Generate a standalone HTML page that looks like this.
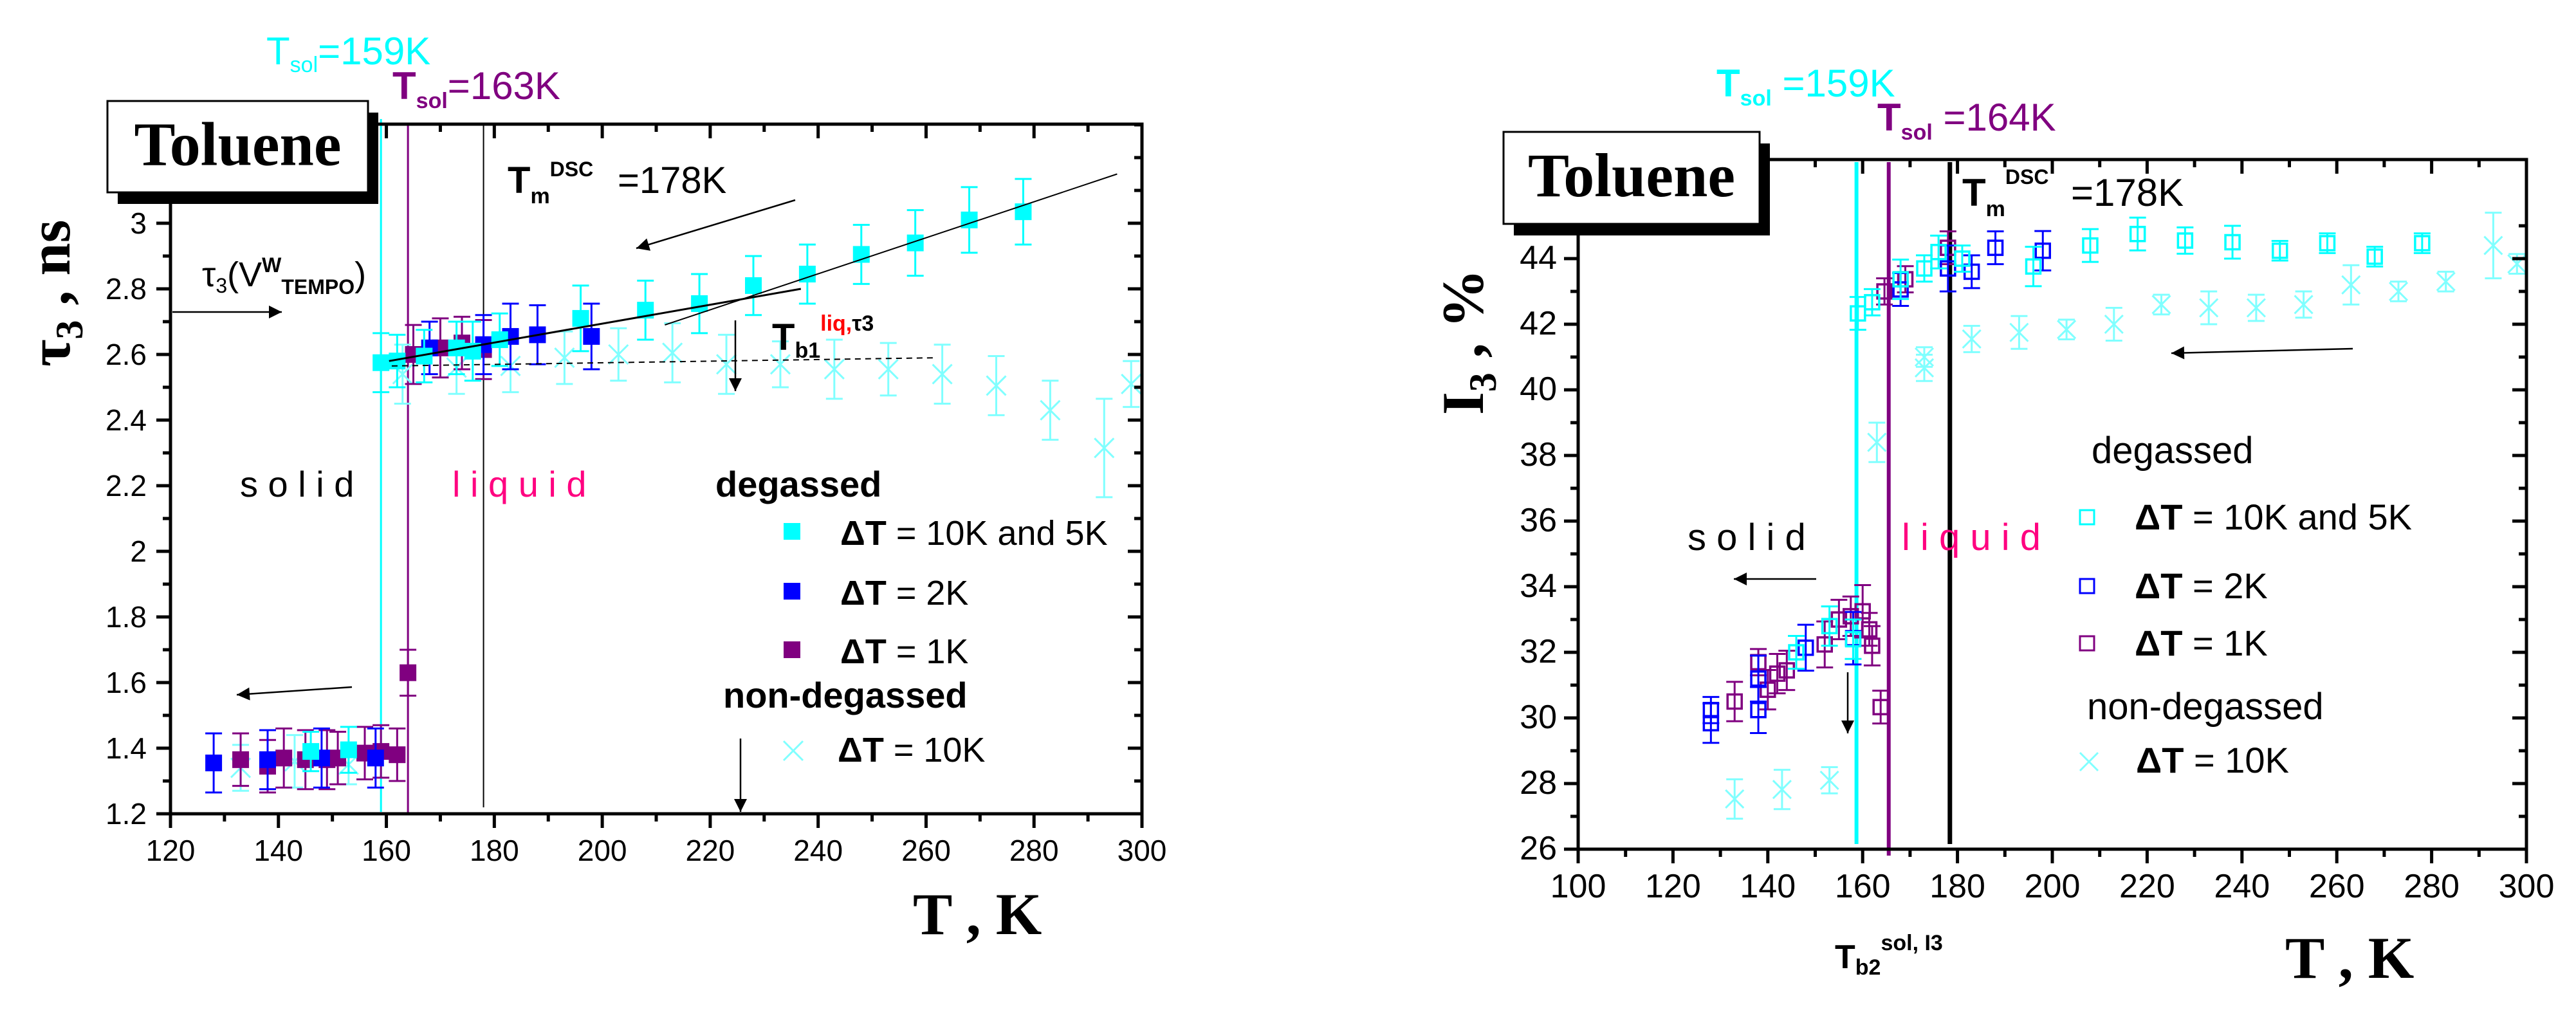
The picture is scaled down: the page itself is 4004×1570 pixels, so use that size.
<!DOCTYPE html>
<html><head><meta charset="utf-8"><style>
html,body{margin:0;padding:0;background:#fff;}
svg{display:block;}
text{font-family:"Liberation Sans",Arial,sans-serif;}
.serif{font-family:"Liberation Serif","Times New Roman",serif;font-weight:bold;}
</style></head><body>
<svg id="fig" width="4004" height="1570" viewBox="0 0 4004 1570" xmlns="http://www.w3.org/2000/svg">
<defs>
<marker id="ah" viewBox="0 0 10 10" refX="10" refY="5" markerWidth="14" markerHeight="10" markerUnits="userSpaceOnUse" orient="auto"><path d="M0,0L10,5L0,10z" fill="#000"/></marker>
<marker id="ahb" viewBox="0 0 10 10" refX="10" refY="5" markerWidth="30" markerHeight="20" markerUnits="userSpaceOnUse" orient="auto"><path d="M0,0L10,5L0,10z" fill="#000"/></marker>
</defs>
<g id="left"></g>
<g id="right"></g>
</svg>
<script>
// ---------- Left chart data (tau3, ns) ----------
const L_xTicks = [120,140,160,180,200,220,240,260,280,300];
const L_yTicks = [1.2,1.4,1.6,1.8,2,2.2,2.4,2.6,2.8,3];
const L_cyanT = [146,153,159,162,167,173,176,181,196,208,218,228,238,248,258,268,278];
const L_cyanV = [1.39,1.395,2.575,2.58,2.595,2.62,2.61,2.645,2.71,2.735,2.755,2.81,2.845,2.905,2.94,3.01,3.035];
const L_cyanE = [0.06,0.07,0.09,0.08,0.08,0.08,0.09,0.08,0.1,0.09,0.09,0.09,0.09,0.09,0.1,0.1,0.1];
const L_blueT = [128,138,148,158,168,178,183,188,198];
const L_blueV = [1.355,1.365,1.37,1.37,2.62,2.63,2.655,2.66,2.655];
const L_blueE = [0.09,0.09,0.09,0.09,0.08,0.09,0.1,0.09,0.1];
const L_purpT = [133,138,141,145,149,151,156,159,162,164,165,170,174,178];
const L_purpV = [1.365,1.345,1.37,1.365,1.365,1.37,1.385,1.39,1.38,1.63,2.6,2.62,2.635,2.615];
const L_purpE = [0.08,0.08,0.09,0.09,0.09,0.08,0.08,0.08,0.08,0.07,0.09,0.09,0.08,0.09];
const L_ndT = [133,143,153,163,173,183,193,203,213,223,233,243,253,263,273,283,293,298];
const L_ndV = [1.34,1.36,1.35,2.54,2.56,2.565,2.59,2.6,2.605,2.57,2.57,2.555,2.555,2.54,2.505,2.43,2.315,2.51];
const L_ndE = [0.07,0.08,0.06,0.09,0.08,0.08,0.08,0.08,0.09,0.09,0.07,0.09,0.08,0.09,0.09,0.09,0.15,0.07];
const L_fit1T = [160.5,236.8], L_fit1V = [2.58,2.8];
const L_fit2T = [211.6,295.4], L_fit2V = [2.69,3.15];
const L_dashT = [161,262], L_dashV = [2.565,2.59];

// ---------- Right chart data (I3, %) ----------
const R_xTicks = [100,120,140,160,180,200,220,240,260,280,300];
const R_yTicks = [26,28,30,32,34,36,38,40,42,44];
const R_cyanT = [146,153,158,159,162,168,173,176,181,196,208,218,228,238,248,258,268,278];
const R_cyanV = [32.0,32.8,32.4,42.33,42.67,43.37,43.7,44.2,44.0,43.76,44.4,44.75,44.55,44.5,44.24,44.47,44.06,44.47];
const R_cyanE = [0.5,0.6,0.6,0.5,0.4,0.6,0.4,0.5,0.4,0.6,0.5,0.5,0.4,0.5,0.3,0.3,0.3,0.3];
const R_blueT = [128,128,138,138,148,158,168,178,183,188,198];
const R_blueV = [30.24,29.84,31.2,30.24,32.14,32.43,43.06,43.7,43.6,44.33,44.24];
const R_blueE = [0.4,0.6,0.7,0.7,0.7,0.8,0.5,0.7,0.5,0.5,0.6];
const R_purpT = [133,138,140,142,144,152,155,157.5,160,161.4,162,163.8,164.6,169,178];
const R_purpV = [30.5,31.7,30.86,31.35,31.45,32.24,33.0,33.1,33.25,32.7,32.2,30.33,43.0,43.37,44.33];
const R_purpE = [0.6,0.4,0.6,0.6,0.6,0.7,0.6,0.6,0.8,0.5,0.6,0.5,0.4,0.4,0.5];
const R_ndT = [133,143,153,163,173,173,183,193,203,213,223,233,243,253,263,273,283,293,298];
const R_ndV = [27.53,27.82,28.1,38.4,40.67,41.0,41.55,41.75,41.84,42.0,42.6,42.5,42.5,42.6,43.2,43.0,43.3,44.4,43.84];
const R_ndE = [0.6,0.6,0.4,0.6,0.4,0.3,0.4,0.5,0.3,0.5,0.3,0.5,0.4,0.4,0.6,0.3,0.3,1.0,0.3];

const NS = "http://www.w3.org/2000/svg";
function mk(parent, tag, attrs, txt){
  const e = document.createElementNS(NS, tag);
  for (const k in attrs) e.setAttribute(k, attrs[k]);
  if (txt !== undefined) e.textContent = txt;
  parent.appendChild(e);
  return e;
}
const CY="#00ffff", BL="#0000ff", PU="#800080", ND="#80ffff";

function frame(g, x0, x1, y0, y1, xTicks, yTicks, sx, sy, xMinorStep, yMinorStep, xmin, xmax, ymin, ymax, fs, xlblY, ylblX){
  const fr = mk(g,'rect',{x:x0,y:y0,width:x1-x0,height:y1-y0,fill:'none',stroke:'#000','stroke-width':5});
  
  
  for (let t=xmin; t<=xmax+1e-6; t+=xMinorStep){
    const major = xTicks.some(v=>Math.abs(v-t)<1e-6);
    const L = major?22:12;
    const X = sx(t);
    const tk = mk(g,'line',{x1:X,x2:X,y1:y1,y2:y1+L,stroke:'#000','stroke-width':5});
    
    
    mk(g,'line',{x1:X,x2:X,y1:y0,y2:y0+L,stroke:'#000','stroke-width':5});
  }
  xTicks.forEach(v=>{
    const t = mk(g,'text',{x:sx(v),y:xlblY,'font-size':fs,'text-anchor':'middle'},String(v));
    
    
  });
  for (let v=ymin; v<=ymax+1e-6; v+=yMinorStep){
    const major = yTicks.some(u=>Math.abs(u-v)<1e-6);
    const L = major?22:12;
    const Y = sy(v);
    const tk = mk(g,'line',{x1:x0-L,x2:x0,y1:Y,y2:Y,stroke:'#000','stroke-width':5});
    
    
    mk(g,'line',{x1:x1-L,x2:x1,y1:Y,y2:Y,stroke:'#000','stroke-width':5});
  }
  yTicks.forEach(v=>{
    const t = mk(g,'text',{x:ylblX,y:sy(v)+16,'font-size':fs,'text-anchor':'end'},String(v));
    
    
  });
}

function series(g, T, V, E, sx, sy, color, kind, size, name){
  const sg = mk(g,'g',{});
  
  
  for (let i=0;i<T.length;i++){
    const X=sx(T[i]), Y=sy(V[i]), Yt=sy(V[i]+E[i]), Yb=sy(V[i]-E[i]);
    mk(sg,'line',{x1:X,x2:X,y1:Yt,y2:Yb,stroke:color,'stroke-width':3});
    mk(sg,'line',{x1:X-13,x2:X+13,y1:Yt,y2:Yt,stroke:color,'stroke-width':3});
    mk(sg,'line',{x1:X-13,x2:X+13,y1:Yb,y2:Yb,stroke:color,'stroke-width':3});
    const h=size/2;
    let m;
    if (kind==='fill') m = mk(sg,'rect',{x:X-h,y:Y-h,width:size,height:size,fill:color});
    else if (kind==='open') m = mk(sg,'rect',{x:X-h,y:Y-h,width:size,height:size,fill:'none',stroke:color,'stroke-width':3.5});
    else { m = mk(sg,'path',{d:`M${X-h},${Y-h}L${X+h},${Y+h}M${X-h},${Y+h}L${X+h},${Y-h}`,stroke:color,'stroke-width':3,fill:'none'}); }
    
    
  }
}

function label(g, x, y, html, attrs, name){
  const t = mk(g,'text',Object.assign({x:x,y:y},attrs||{}));
  t.innerHTML = html;
  
  
  return t;
}
function arrow(g,x1,y1,x2,y2,big,name){
  const a = mk(g,'line',{x1:x1,y1:y1,x2:x2,y2:y2,stroke:'#000','stroke-width':2.5,'marker-end':big?'url(#ahb)':'url(#ah)'});
  
  
}
function tolueneBox(g,x,y,w,h,fs){
  const bg = mk(g,'g',{});
  
  
  mk(bg,'rect',{x:x+16,y:y+18,width:w,height:h,fill:'#000'});
  mk(bg,'rect',{x:x,y:y,width:w,height:h,fill:'#fff',stroke:'#000','stroke-width':3});
  mk(bg,'text',{x:x+w/2,y:y+h*0.7,'font-size':fs,'text-anchor':'middle',class:'serif'},'Toluene');
}

// ===== LEFT =====
(function(){
  const g = document.getElementById('left');
  const x0=265,x1=1775,y0=193,y1=1265;
  const sx = t => x0 + (t-120)*(x1-x0)/180;
  const sy = v => y1 - (v-1.2)*510;
  const vl1=mk(g,'line',{x1:sx(159),x2:sx(159),y1:185,y2:1262,stroke:CY,'stroke-width':3});  
  const vl2=mk(g,'line',{x1:sx(164),x2:sx(164),y1:193,y2:1265,stroke:PU,'stroke-width':3});  
  const vl3=mk(g,'line',{x1:sx(178),x2:sx(178),y1:193,y2:1255,stroke:'#000','stroke-width':2});  
  series(g,L_ndT,L_ndV,L_ndE,sx,sy,ND,'x',30,'non-degassed-10k');
  series(g,L_purpT,L_purpV,L_purpE,sx,sy,PU,'fill',26,'degassed-1k');
  series(g,L_blueT,L_blueV,L_blueE,sx,sy,BL,'fill',26,'degassed-2k');
  series(g,L_cyanT,L_cyanV,L_cyanE,sx,sy,CY,'fill',26,'degassed-10k-5k');
  const f1=mk(g,'line',{x1:sx(L_fit1T[0]),y1:sy(L_fit1V[0]),x2:sx(L_fit1T[1]),y2:sy(L_fit1V[1]),stroke:'#000','stroke-width':3});  
  const f2=mk(g,'line',{x1:sx(L_fit2T[0]),y1:sy(L_fit2V[0]),x2:sx(L_fit2T[1]),y2:sy(L_fit2V[1]),stroke:'#000','stroke-width':2});  
  const f3=mk(g,'line',{x1:sx(L_dashT[0]),y1:sy(L_dashV[0]),x2:sx(L_dashT[1]),y2:sy(L_dashV[1]),stroke:'#000','stroke-width':2,'stroke-dasharray':'9,7'});  
  frame(g,x0,x1,y0,y1,L_xTicks,L_yTicks,sx,sy,10,0.1,120,300,1.2,3.3,46,1338,228);
  tolueneBox(g,167,157,405,142,96);
  label(g,414,100,'T<tspan font-size="34" dy="12">sol</tspan><tspan dy="-12">=159K</tspan>',{'font-size':60,fill:CY},'tsol-159-label');
  label(g,610,154,'<tspan font-weight="bold">T</tspan><tspan font-size="34" dy="14" font-weight="bold">sol</tspan><tspan dy="-14">=163K</tspan>',{'font-size':60,fill:PU},'tsol-163-label');
  label(g,789,300,'<tspan font-weight="bold">T</tspan><tspan font-size="34" dy="16" font-weight="bold">m</tspan><tspan font-size="32" dy="-42" font-weight="bold">DSC</tspan><tspan x="960" dy="26">=178K</tspan>',{'font-size':58},'tm-dsc-label');
  label(g,314,445,'τ<tspan font-size="32" dy="10">3</tspan><tspan dy="-10">(V</tspan><tspan font-size="32" dy="-22" font-weight="bold">W</tspan><tspan font-size="32" dy="34" font-weight="bold">TEMPO</tspan><tspan dy="-12">)</tspan>',{'font-size':54},'tau3-tempo-label');
  label(g,1200,544,'<tspan font-weight="bold">T</tspan><tspan font-size="34" dy="12" font-weight="bold">b1</tspan><tspan font-size="34" dy="-42" fill="#ff0000" font-weight="bold">liq,</tspan><tspan font-size="34" font-weight="bold">τ3</tspan>',{'font-size':58},'tb1-label');
  label(g,373,772,'s o l i d',{'font-size':56},'solid-label');
  label(g,703,772,'l i q u i d',{'font-size':56,fill:'#ff0080'},'liquid-label');
  arrow(g,1236,311,989,386,true,'cooling-arrow');
  arrow(g,268,485,438,485,true,'tau3-arrow');
  arrow(g,547,1068,368,1080,true,'solid-arrow');
  arrow(g,1143,498,1143,608,true,'tb1-down-arrow');
  arrow(g,1151,1148,1151,1262,true,'bottom-down-arrow');
  const lg = mk(g,'g',{});  
  label(lg,1112,772,'degassed',{'font-size':56,'font-weight':'bold'},'legend-degassed-title');
  const mks=[[CY,847,'ΔT = 10K and 5K'],[BL,940,'ΔT = 2K'],[PU,1031,'ΔT = 1K']];
  mks.forEach(m=>{
    const r=mk(lg,'rect',{x:1218,y:m[1]-34,width:26,height:26,fill:m[0]});  
    label(lg,1306,m[1],'<tspan font-weight="bold">ΔT</tspan>'+m[2].slice(2),{'font-size':54},'legend-entry');
  });
  label(lg,1124,1100,'non-degassed',{'font-size':56,'font-weight':'bold'},'legend-nondegassed-title');
  const xm=mk(lg,'path',{d:'M1218,1152L1248,1182M1218,1182L1248,1152',stroke:ND,'stroke-width':3});  
  label(lg,1302,1184,'<tspan font-weight="bold">ΔT</tspan> = 10K',{'font-size':54},'legend-entry');
  const yt=mk(g,'text',{x:0,y:0,'font-size':92,class:'serif',transform:'translate(108,570) rotate(-90)'}); yt.innerHTML='τ<tspan font-size="60" dy="20">3</tspan><tspan dy="-20"> , ns</tspan>';
   
  label(g,1419,1452,'T , K',{'font-size':92,class:'serif'},'x-axis-title');
})();

// ===== RIGHT =====
(function(){
  const g = document.getElementById('right');
  const x0=2453,x1=3927,y0=248,y1=1320;
  const sx = t => x0 + (t-100)*(x1-x0)/200;
  const sy = v => y1 - (v-26)*51;
  const vl1=mk(g,'line',{x1:sx(158.7),x2:sx(158.7),y1:252,y2:1312,stroke:CY,'stroke-width':6});  
  const vl2=mk(g,'line',{x1:sx(165.5),x2:sx(165.5),y1:252,y2:1330,stroke:PU,'stroke-width':6});  
  const vl3=mk(g,'line',{x1:sx(178.4),x2:sx(178.4),y1:252,y2:1312,stroke:'#000','stroke-width':7});  
  series(g,R_ndT,R_ndV,R_ndE,sx,sy,ND,'x',28,'non-degassed-10k');
  series(g,R_purpT,R_purpV,R_purpE,sx,sy,PU,'open',22,'degassed-1k');
  series(g,R_blueT,R_blueV,R_blueE,sx,sy,BL,'open',22,'degassed-2k');
  series(g,R_cyanT,R_cyanV,R_cyanE,sx,sy,CY,'open',22,'degassed-10k-5k');
  frame(g,x0,x1,y0,y1,R_xTicks,R_yTicks,sx,sy,10,1,100,300,26,45,52,1395,2420);
  tolueneBox(g,2337,205,398,143,96);
  label(g,2668,150,'<tspan font-weight="bold">T</tspan><tspan font-size="34" dy="14" font-weight="bold">sol</tspan><tspan dy="-14"> =159K</tspan>',{'font-size':60,fill:CY},'tsol-159-label');
  label(g,2918,203,'<tspan font-weight="bold">T</tspan><tspan font-size="34" dy="14" font-weight="bold">sol</tspan><tspan dy="-14"> =164K</tspan>',{'font-size':60,fill:PU},'tsol-164-label');
  label(g,3050,320,'<tspan font-weight="bold">T</tspan><tspan font-size="34" dy="16" font-weight="bold">m</tspan><tspan font-size="32" dy="-50" font-weight="bold">DSC</tspan><tspan x="3219" dy="34">=178K</tspan>',{'font-size':60},'tm-dsc-label');
  label(g,2623,855,'s o l i d',{'font-size':58},'solid-label');
  label(g,2956,855,'l i q u i d',{'font-size':58,fill:'#ff0080'},'liquid-label');
  label(g,2852,1505,'<tspan font-weight="bold">T</tspan><tspan font-size="34" dy="10" font-weight="bold">b2</tspan><tspan font-size="34" dy="-38" font-weight="bold">sol, I3</tspan>',{'font-size':52},'tb2-label');
  arrow(g,3657,542,3375,549,true,'cooling-arrow');
  arrow(g,2823,900,2695,900,true,'solid-arrow');
  arrow(g,2872,1045,2872,1140,true,'tb2-down-arrow');
  const lg = mk(g,'g',{});  
  label(lg,3251,720,'degassed',{'font-size':58},'legend-degassed-title');
  const mks=[[CY,823,'ΔT = 10K and 5K'],[BL,930,'ΔT = 2K'],[PU,1019,'ΔT = 1K']];
  mks.forEach(m=>{
    const r=mk(lg,'rect',{x:3233,y:m[1]-30,width:22,height:22,fill:'none',stroke:m[0],'stroke-width':3});  
    label(lg,3318,m[1],'<tspan font-weight="bold">ΔT</tspan>'+m[2].slice(2),{'font-size':56},'legend-entry');
  });
  label(lg,3244,1118,'non-degassed',{'font-size':58},'legend-nondegassed-title');
  const xm=mk(lg,'path',{d:'M3233,1170L3261,1198M3233,1198L3261,1170',stroke:ND,'stroke-width':3});  
  label(lg,3320,1201,'<tspan font-weight="bold">ΔT</tspan> = 10K',{'font-size':56},'legend-entry');
  const yt=mk(g,'text',{x:0,y:0,'font-size':92,class:'serif',transform:'translate(2305,645) rotate(-90)'}); yt.innerHTML='I<tspan font-size="60" dy="20">3</tspan><tspan dy="-20"> , %</tspan>';
   
  label(g,3552,1520,'T , K',{'font-size':92,class:'serif'},'x-axis-title');
})();
</script>
</body></html>
